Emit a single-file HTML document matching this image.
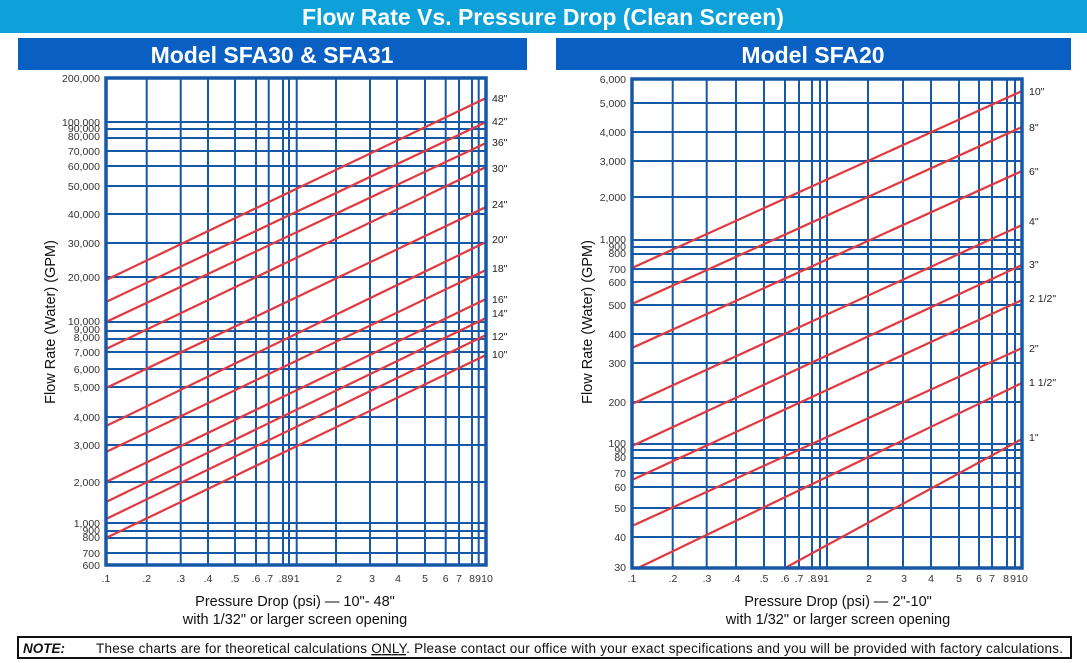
<!DOCTYPE html>
<html><head><meta charset="utf-8"><style>
html,body{margin:0;padding:0;background:#fff;}
svg{display:block;font-family:"Liberation Sans",Arial,sans-serif;}
</style></head><body>
<svg width="1087" height="663" viewBox="0 0 1087 663" xmlns="http://www.w3.org/2000/svg">
<defs>
<clipPath id="cl"><rect x="106" y="78" width="380" height="487"/></clipPath>
<clipPath id="cr"><rect x="632" y="79" width="390" height="489"/></clipPath>
</defs>
<rect x="0" y="0" width="1087" height="33" fill="#0ea0d8"/>
<text x="543" y="25" text-anchor="middle" fill="#fff" font-size="23" font-weight="bold">Flow Rate Vs. Pressure Drop (Clean Screen)</text>
<rect x="18" y="38" width="509" height="32" fill="#0a5fc2"/>
<text x="272" y="63" text-anchor="middle" fill="#fff" font-size="23" font-weight="bold">Model SFA30 &amp; SFA31</text>
<rect x="556" y="38" width="515" height="32" fill="#0a5fc2"/>
<text x="813" y="63" text-anchor="middle" fill="#fff" font-size="23" font-weight="bold">Model SFA20</text>

<g stroke="#1558a8" stroke-width="2" fill="none">
<path d="M146.7 78V565M180.7 78V565M208 78V565M235 78V565M256 78V565M268.7 78V565M283 78V565M289 78V565M296.7 78V565M336 78V565M370 78V565M397 78V565M425 78V565M445.7 78V565M459 78V565M472 78V565M478.7 78V565"/>
<path d="M106 122H486M106 129H486M106 138H486M106 151H486M106 166H486M106 186H486M106 214H486M106 243H486M106 277H486M106 322H486M106 331H486M106 339H486M106 352H486M106 369H486M106 387H486M106 417H486M106 445H486M106 482H486M106 523H486M106 531H486M106 538H486M106 553H486"/>
</g>
<g stroke="#e0393f" stroke-width="2.2" clip-path="url(#cl)">
<line x1="106" y1="280" x2="486" y2="98"/>
<line x1="106" y1="302" x2="486" y2="122"/>
<line x1="106" y1="322" x2="486" y2="143"/>
<line x1="106" y1="349" x2="486" y2="167"/>
<line x1="106" y1="388" x2="486" y2="207"/>
<line x1="106" y1="426" x2="486" y2="242"/>
<line x1="106" y1="452" x2="486" y2="270"/>
<line x1="106" y1="482" x2="486" y2="299"/>
<line x1="106" y1="502" x2="486" y2="318"/>
<line x1="106" y1="519" x2="486" y2="335"/>
<line x1="106" y1="538" x2="486" y2="355"/>
</g>
<rect x="106" y="78" width="380" height="487" fill="none" stroke="#1558a8" stroke-width="3.5"/>
<g font-size="10.5" fill="#333" text-anchor="end">
<text x="100" y="82">200,000</text>
<text x="100" y="126">100,000</text><text x="100" y="132">90,000</text><text x="100" y="140">80,000</text>
<text x="100" y="155">70,000</text><text x="100" y="170">60,000</text><text x="100" y="190">50,000</text>
<text x="100" y="218">40,000</text><text x="100" y="247">30,000</text><text x="100" y="281">20,000</text>
<text x="100" y="325">10,000</text><text x="100" y="333">9,000</text><text x="100" y="341">8,000</text>
<text x="100" y="356">7,000</text><text x="100" y="373">6,000</text><text x="100" y="391">5,000</text>
<text x="100" y="421">4,000</text><text x="100" y="449">3,000</text><text x="100" y="486">2,000</text>
<text x="100" y="527">1,000</text><text x="100" y="534">900</text><text x="100" y="541">800</text>
<text x="100" y="557">700</text><text x="100" y="569">600</text>
</g>
<g font-size="10.5" fill="#333" text-anchor="middle">
<text x="106" y="582">.1</text><text x="146.7" y="582">.2</text><text x="180.7" y="582">.3</text><text x="208" y="582">.4</text><text x="235" y="582">.5</text><text x="256" y="582">.6</text><text x="268.7" y="582">.7</text><text x="283" y="582">.8</text><text x="289" y="582">.9</text><text x="296.7" y="582">1</text><text x="339" y="582">2</text><text x="372" y="582">3</text><text x="398" y="582">4</text><text x="425" y="582">5</text><text x="445.7" y="582">6</text><text x="459" y="582">7</text><text x="472" y="582">8</text><text x="478" y="582">9</text><text x="487" y="582">10</text>
</g>
<g font-size="10.5" fill="#222">
<text x="492" y="102">48"</text><text x="492" y="125">42"</text><text x="492" y="146">36"</text><text x="492" y="172">30"</text><text x="492" y="208">24"</text><text x="492" y="243">20"</text><text x="492" y="272">18"</text><text x="492" y="303">16"</text><text x="492" y="317">14"</text><text x="492" y="340">12"</text><text x="492" y="358">10"</text>
</g>
<text transform="translate(55 322) rotate(-90)" text-anchor="middle" font-size="14.5" fill="#111">Flow Rate (Water) (GPM)</text>
<text x="295" y="606" text-anchor="middle" font-size="14.5" fill="#111">Pressure Drop (psi)  —  10"- 48"</text>
<text x="295" y="624" text-anchor="middle" font-size="14.5" fill="#111">with 1/32" or larger screen opening</text>

<g stroke="#1558a8" stroke-width="2" fill="none">
<path d="M672.7 79V568M706.7 79V568M736 79V568M764 79V568M785 79V568M799 79V568M812 79V568M820 79V568M827 79V568M868 79V568M903 79V568M931 79V568M959 79V568M979 79V568M992 79V568M1007 79V568M1015 79V568"/>
<path d="M632 103H1022M632 132H1022M632 161H1022M632 197H1022M632 240H1022M632 247H1022M632 254H1022M632 269H1022M632 282H1022M632 305H1022M632 334H1022M632 363H1022M632 402H1022M632 444H1022M632 450H1022M632 458H1022M632 473H1022M632 487H1022M632 508H1022M632 537H1022"/>
</g>
<g stroke="#e0393f" stroke-width="2.2" clip-path="url(#cr)">
<line x1="632" y1="268" x2="1022" y2="91"/>
<line x1="632" y1="304" x2="1022" y2="127"/>
<line x1="632" y1="348" x2="1022" y2="171"/>
<line x1="632" y1="404" x2="1022" y2="225"/>
<line x1="632" y1="446" x2="1022" y2="265"/>
<line x1="632" y1="480" x2="1022" y2="300"/>
<line x1="632" y1="526" x2="1022" y2="348"/>
<line x1="638" y1="568" x2="1022" y2="383"/>
<line x1="785" y1="568" x2="1022" y2="439"/>
</g>
<rect x="632" y="79" width="390" height="489" fill="none" stroke="#1558a8" stroke-width="3.5"/>
<g font-size="10.5" fill="#333" text-anchor="end">
<text x="626" y="83">6,000</text><text x="626" y="107">5,000</text><text x="626" y="136">4,000</text><text x="626" y="165">3,000</text><text x="626" y="201">2,000</text>
<text x="626" y="243">1,000</text><text x="626" y="250">900</text><text x="626" y="257">800</text><text x="626" y="273">700</text><text x="626" y="286">600</text>
<text x="626" y="309">500</text><text x="626" y="338">400</text><text x="626" y="367">300</text><text x="626" y="406">200</text>
<text x="626" y="447">100</text><text x="626" y="454">90</text><text x="626" y="461">80</text><text x="626" y="477">70</text><text x="626" y="491">60</text>
<text x="626" y="512">50</text><text x="626" y="541">40</text><text x="626" y="571">30</text>
</g>
<g font-size="10.5" fill="#333" text-anchor="middle">
<text x="632" y="582">.1</text><text x="673" y="582">.2</text><text x="707" y="582">.3</text><text x="736" y="582">.4</text><text x="764" y="582">.5</text><text x="785" y="582">.6</text><text x="799" y="582">.7</text><text x="812" y="582">.8</text><text x="819" y="582">.9</text><text x="826" y="582">1</text><text x="869" y="582">2</text><text x="904" y="582">3</text><text x="931" y="582">4</text><text x="959" y="582">5</text><text x="979" y="582">6</text><text x="992" y="582">7</text><text x="1006" y="582">8</text><text x="1013" y="582">9</text><text x="1022" y="582">10</text>
</g>
<g font-size="10.5" fill="#222">
<text x="1029" y="95">10"</text><text x="1029" y="131">8"</text><text x="1029" y="175">6"</text><text x="1029" y="225">4"</text><text x="1029" y="268">3"</text><text x="1029" y="302">2 1/2"</text><text x="1029" y="352">2"</text><text x="1029" y="386">1 1/2"</text><text x="1029" y="441">1"</text>
</g>
<text transform="translate(592 322) rotate(-90)" text-anchor="middle" font-size="14.5" fill="#111">Flow Rate (Water) (GPM)</text>
<text x="838" y="606" text-anchor="middle" font-size="14.5" fill="#111">Pressure Drop (psi)  —  2"-10"</text>
<text x="838" y="624" text-anchor="middle" font-size="14.5" fill="#111">with 1/32" or larger screen opening</text>

<rect x="18" y="637" width="1053" height="21" fill="#fff" stroke="#111" stroke-width="2"/>
<text x="23" y="653" font-size="13.5" font-weight="bold" font-style="italic" fill="#111">NOTE:</text>
<text x="96" y="653" font-size="13.5" fill="#111" textLength="967" lengthAdjust="spacing">These charts are for theoretical calculations <tspan text-decoration="underline">ONLY</tspan>. Please contact our office with your exact specifications and you will be provided with factory calculations.</text>
</svg>
</body></html>
